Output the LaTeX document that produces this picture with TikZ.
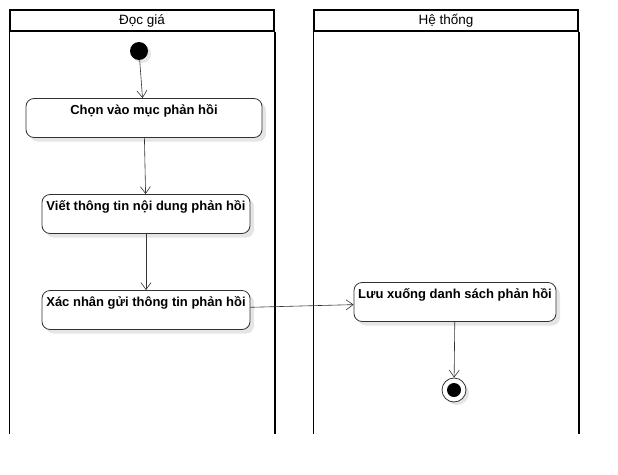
\documentclass[tikz,border=0pt]{standalone}
\usepackage{fontspec}
\setmainfont{Liberation Sans}
\usetikzlibrary{positioning,shadows,arrows.meta}
\tikzset{>={Straight Barb[length=7pt,width=10pt]}}
\tikzstyle{lanehead}=[draw,line width=1.5pt,minimum width=264pt,minimum height=21pt,inner sep=0pt,font=\fontsize{13.5}{15}\selectfont]
\tikzstyle{laneside}=[line width=1.5pt]
\tikzstyle{action}=[draw=black!80,thick,rounded corners=8pt,fill=white,inner sep=2pt,text height=14pt,text depth=21pt,font=\bfseries\fontsize{13}{15}\selectfont,drop shadow={shadow xshift=4pt,shadow yshift=-4pt,fill=black!10,opacity=1}]
\tikzstyle{startnode}=[circle,fill=black,minimum size=18pt,inner sep=0pt,drop shadow={shadow xshift=3pt,shadow yshift=-3pt,fill=black!10,opacity=1}]
\tikzstyle{endnode}=[circle,draw=black!80,thick,fill=white,minimum size=24pt,inner sep=0pt,path picture={\fill[black] (path picture bounding box.center) circle (7pt);},drop shadow={shadow xshift=3pt,shadow yshift=-3pt,fill=black!10,opacity=1}]
\tikzstyle{flow}=[->,draw=black!80,semithick]

\begin{document}
\begin{tikzpicture}[x=1pt,y=-1pt]
	\useasboundingbox (0,0) rectangle (618,474);
	% swimlanes
	\node[lanehead] (docgia) at (142,20.5) {Đọc giá};
	\draw[laneside] (docgia.south west) -- ++(0,402);
	\draw[laneside] (docgia.south east) -- ++(0,402);
	\node[lanehead] (hethong) at (446,20.5) {Hệ thống};
	\draw[laneside] (hethong.south west) -- ++(0,402);
	\draw[laneside] (hethong.south east) -- ++(0,402);
	% activities
	\node[startnode] (start) at (139,51) {};
	\node[action,minimum width=236pt] (chon) at (144,118) {Chọn vào mục phản hồi};
	\node[action,minimum width=208pt] (viet) at (146,214) {Viết thông tin nội dung phản hồi};
	\node[action,minimum width=208pt] (xacnhan) at (146,310) {Xác nhân gửi thông tin phản hồi};
	\node[action,minimum width=202pt] (luu) at (455,302) {Lưu xuống danh sách phản hồi};
	\node[endnode] (stop) at (454,390) {};
	% transitions
	\draw[flow] (start) -- (chon);
	\draw[flow] (chon) -- (viet);
	\draw[flow] (viet) -- (xacnhan);
	\draw[flow] (xacnhan) -- (luu);
	\draw[flow] (luu) -- (stop);
\end{tikzpicture}
\end{document}
